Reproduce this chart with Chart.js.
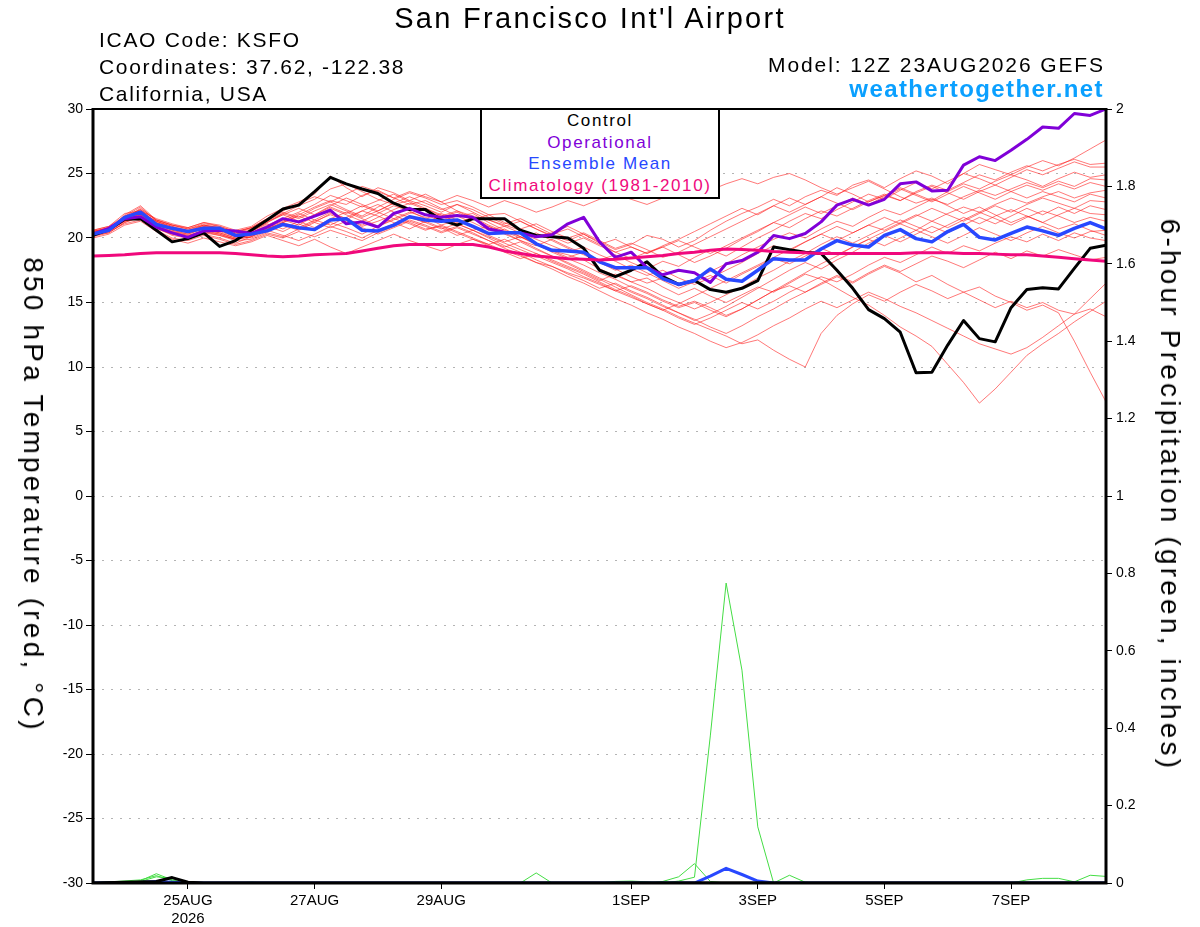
<!DOCTYPE html>
<html lang="en">
<head>
    <meta charset="UTF-8">
    <title>San Francisco Int'l Airport - GEFS 850 hPa Temperature</title>
    <script src="https://cdn.jsdelivr.net/npm/chart.js"></script>
    <style>
        body {
            margin: 0;
            background: #fff;
        }

        #wrap {
            position: relative;
            width: 1200px;
            height: 927px;
            font-family: "Liberation Sans", Arial, sans-serif;
            color: #000;
        }

        #wrap canvas {
            position: absolute;
            left: 0;
            top: 0;
        }

        .txt {
            position: absolute;
            white-space: nowrap;
            line-height: 1;
        }

        .title {
            left: 590px;
            top: 4px;
            font-size: 29px;
            letter-spacing: 2.3px;
            transform: translateX(-50%);
        }

        .info {
            left: 99px;
            font-size: 21px;
            letter-spacing: 1.7px;
        }

        .model {
            right: 95px;
            top: 54px;
            font-size: 21px;
            letter-spacing: 1.9px;
        }

        .site {
            right: 96px;
            top: 77px;
            font-size: 24px;
            font-weight: bold;
            letter-spacing: 1.4px;
            color: #0aa0ff;
        }

        .legend {
            position: absolute;
            left: 480px;
            top: 108px;
            width: 240px;
            height: 91px;
            box-sizing: border-box;
            border: 2px solid #000;
            background: #fff;
            text-align: center;
            font-size: 17px;
            line-height: 21.5px;
            letter-spacing: 1.6px;
        }

        .axis-title {
            position: absolute;
            white-space: nowrap;
            font-size: 28px;
            line-height: 1;
            letter-spacing: 3.2px;
            transform: translate(-50%, -50%) rotate(90deg);
        }
    </style>
</head>
<body>
<div id="wrap">
    <canvas id="chart" width="1200" height="927"></canvas>

    <div class="txt title">San Francisco Int'l Airport</div>
    <div class="txt info" style="top:29px">ICAO Code: KSFO</div>
    <div class="txt info" style="top:56px">Coordinates: 37.62, -122.38</div>
    <div class="txt info" style="top:83px">California, USA</div>
    <div class="txt model">Model: 12Z 23AUG2026 GEFS</div>
    <div class="txt site">weathertogether.net</div>

    <div class="legend">
        <div style="color:#000">Control</div>
        <div style="color:#8000d8">Operational</div>
        <div style="color:#2848ff">Ensemble Mean</div>
        <div style="color:#f0087c">Climatology (1981-2010)</div>
    </div>

    <div class="axis-title" style="left:33px; top:495px">850 hPa Temperature (red, °C)</div>
    <div class="axis-title" style="left:1170px; top:495px">6-hour Precipitation (green, inches)</div>
</div>

<script>
    // 6-hourly steps, step 0 = 12Z 23AUG2026, step 64 = 12Z 8SEP2026
    const tickSteps = [6, 14, 22, 34, 42, 50, 58];
    const tickLabels = [['25AUG', '2026'], '27AUG', '29AUG', '1SEP', '3SEP', '5SEP', '7SEP'];

    // 850 hPa temperature (C)
    const control = [
        20.2, 20.65, 21.45, 21.5, 20.6, 19.7, 19.95, 20.4, 19.35, 19.8,
        20.6, 21.4, 22.25, 22.55, 23.6, 24.7, 24.2, 23.8, 23.45, 22.7,
        22.2, 22.2, 21.4, 21.0, 21.5, 21.5, 21.5, 20.6, 20.2, 20.1,
        20.0, 19.2, 17.5, 17.0, 17.5, 18.15, 17.0, 16.4, 16.7, 16.0,
        15.8, 16.1, 16.7, 19.3, 19.1, 18.9, 18.8, 17.5, 16.1, 14.45,
        13.75, 12.7, 9.55, 9.6, 11.7, 13.6, 12.2, 11.95, 14.6, 16.0,
        16.15, 16.05, 17.65, 19.2, 19.45
    ];
    const operational = [
        20.3, 20.75, 21.5, 21.65, 20.85, 20.4, 20.05, 20.55, 20.6, 20.55,
        20.35, 20.85, 21.5, 21.25, 21.7, 22.15, 21.1, 21.25, 20.85, 21.9,
        22.3, 21.8, 21.6, 21.75, 21.6, 20.7, 20.45, 20.4, 20.1, 20.25,
        21.1, 21.6, 19.7, 18.5, 18.9, 17.7, 17.15, 17.5, 17.3, 16.55,
        18.0, 18.25, 18.9, 20.2, 19.95, 20.35, 21.25, 22.55, 23.0, 22.55,
        23.0, 24.2, 24.35, 23.65, 23.7, 25.65, 26.3, 26.0, 26.8, 27.65,
        28.6, 28.5, 29.65, 29.5, 30.0
    ];
    const ensembleMean = [
        20.3, 20.6, 21.6, 22.0, 21.05, 20.75, 20.5, 20.75, 20.75, 20.2,
        20.3, 20.55, 21.05, 20.8, 20.65, 21.4, 21.5, 20.6, 20.55, 21.0,
        21.65, 21.4, 21.3, 21.4, 20.9, 20.35, 20.4, 20.4, 19.55, 19.05,
        19.0, 18.9, 18.15, 17.7, 17.7, 17.7, 16.85, 16.4, 16.7, 17.6,
        16.8, 16.65, 17.5, 18.4, 18.3, 18.3, 19.15, 19.8, 19.45, 19.3,
        20.2, 20.65, 19.95, 19.7, 20.5, 21.05, 20.05, 19.85, 20.35, 20.85,
        20.55, 20.2, 20.75, 21.2, 20.7
    ];
    const climatology = [
        18.6, 18.65, 18.7, 18.8, 18.85, 18.85, 18.85, 18.85, 18.85, 18.8,
        18.7, 18.6, 18.55, 18.6, 18.7, 18.75, 18.8, 19.0, 19.2, 19.4,
        19.5, 19.5, 19.5, 19.5, 19.5, 19.3, 19.0, 18.8, 18.6, 18.5,
        18.4, 18.35, 18.3, 18.35, 18.45, 18.55, 18.65, 18.8, 18.9, 19.05,
        19.15, 19.1, 19.05, 18.95, 18.9, 18.85, 18.8, 18.8, 18.8, 18.8,
        18.8, 18.8, 18.85, 18.85, 18.85, 18.8, 18.8, 18.75, 18.7, 18.7,
        18.6, 18.5, 18.4, 18.3, 18.2
    ];

    // ensemble members, 850 hPa temperature (C)
    const members = [
        [20.4,20.7,21.7,22.4,21.3, 20.8,20.5,20.9,20.8,20.3, 20.5,21.2,21.9,22.5,23.0, 23.8,24.2,23.6,23.0,22.6,
         22.9,23.4,22.8,22.1,21.7, 21.4,21.0,20.6,20.1,20.4, 20.9,20.3,19.7,19.1,19.5, 20.2,19.9,19.3,19.8,20.6,
         21.3,21.9,22.4,23.0,22.5, 23.2,23.7,23.3,24.1,24.5, 23.9,24.6,25.2,24.8,24.2, 25.0,25.7,25.3,24.9,25.5,
         26.0,25.6,26.2,26.9,27.6],
        [20.2,20.5,21.3,21.9,20.8, 20.2,20.0,20.3,20.0,19.6, 20.1,20.8,21.0,20.6,21.2, 21.9,21.5,20.9,21.3,21.8,
         21.2,20.7,20.9,20.4,19.9, 19.5,19.0,18.6,18.1,17.8, 17.3,16.9,16.4,15.9,16.3, 15.8,15.2,14.7,15.1,14.6,
         14.0,14.5,15.2,15.9,16.3, 15.8,16.4,17.0,16.5,17.2, 17.8,17.3,16.6,17.1,16.4, 15.8,16.2,15.5,15.0,14.4,
         14.8,14.2,12.0,9.6,7.3],
        [20.5,20.8,21.5,22.0,21.3, 20.9,20.4,20.7,20.6,20.2, 20.0,20.5,21.2,21.8,22.4, 22.9,22.6,23.3,23.7,23.1,
         22.6,22.9,22.3,21.7,21.9, 21.2,20.6,20.1,19.6,19.0, 18.7,18.3,17.6,17.1,16.6, 16.9,16.2,15.6,16.1,15.5,
         15.0,15.6,16.2,15.8,16.5, 17.2,16.8,16.1,15.4,14.8, 14.0,13.1,12.4,11.6,10.2, 8.8,7.2,8.3,9.6,10.9,
         11.8,12.6,13.5,14.3,15.1],
        [20.3,20.6,21.8,22.5,21.4, 21.0,20.7,21.1,20.9,20.5, 20.8,21.5,22.0,21.6,22.3, 22.8,22.2,21.7,22.4,23.0,
         23.5,23.1,22.6,22.9,22.4, 21.8,21.9,21.3,20.7,20.2, 19.8,20.3,19.6,18.9,18.4, 18.9,19.3,18.7,18.1,18.6,
         19.2,19.9,20.5,21.2,20.8, 21.5,22.1,21.7,22.3,22.9, 23.4,22.9,23.6,24.1,23.7, 24.3,24.9,24.5,25.1,25.6,
         25.2,25.7,26.1,25.7,25.8],
        [20.1,20.4,21.2,21.6,20.7, 20.3,20.1,20.5,20.2,19.8, 19.9,20.4,20.1,20.7,21.3, 21.8,21.4,22.1,22.6,22.0,
         21.6,21.2,21.7,21.1,20.6, 20.9,20.4,19.8,19.4,19.9, 19.3,18.8,18.3,18.7,18.1, 17.6,18.2,17.8,18.5,19.1,
         18.6,19.3,20.0,20.6,21.3, 21.9,21.5,22.2,22.8,23.4, 23.0,23.7,24.3,23.8,24.4, 25.0,24.6,24.1,24.7,25.3,
         24.9,25.4,25.9,25.5,25.5],
        [20.6,20.9,21.9,22.1,21.5, 21.1,20.8,21.2,21.0,20.6, 20.9,21.7,22.3,22.8,23.4, 24.8,23.9,23.2,23.9,23.5,
         22.9,22.5,22.0,22.6,22.2, 21.6,21.1,21.5,20.9,20.3, 20.7,20.1,19.5,19.9,19.3, 18.8,19.4,19.9,20.5,21.1,
         21.7,22.3,21.8,22.5,23.1, 22.6,23.2,23.9,23.4,22.8, 23.3,23.9,23.4,22.9,23.6, 24.2,23.8,24.4,24.9,24.5,
         24.0,24.6,25.1,24.7,24.9],
        [20.3,20.5,21.4,21.8,20.9, 20.5,20.2,20.6,20.4,20.0, 20.2,20.9,20.5,21.1,20.6, 21.2,20.8,20.3,20.9,21.5,
         22.0,21.6,21.0,21.4,20.9, 20.3,20.7,20.1,19.5,19.0, 18.5,18.9,18.2,17.6,17.0, 16.5,16.9,16.3,16.8,17.4,
         18.0,18.7,19.3,19.9,20.4, 20.0,20.7,21.3,20.9,21.6, 22.2,21.8,22.4,23.0,22.6, 23.2,23.7,23.3,23.8,24.3,
         23.9,24.4,24.0,24.6,24.5],
        [20.4,20.6,21.5,21.9,21.1, 20.6,20.3,20.8,20.5,20.1, 20.4,20.9,21.4,21.0,21.7, 22.3,21.8,21.3,21.9,22.5,
         22.1,21.5,21.9,21.4,20.8, 20.2,19.7,20.1,19.5,18.9, 18.4,17.9,17.3,16.8,16.2, 15.7,15.1,14.6,15.0,14.4,
         13.9,14.5,15.2,15.9,16.6, 17.3,18.0,18.6,19.3,19.9, 20.5,21.1,20.6,21.3,21.9, 22.4,22.0,22.6,23.1,22.7,
         23.2,23.6,23.1,23.5,23.7],
        [20.2,20.5,21.1,21.4,20.6, 20.0,19.8,20.2,19.9,19.5, 19.8,20.3,20.0,20.5,20.1, 20.6,20.2,19.8,20.4,20.9,
         21.4,21.0,20.5,20.9,20.4, 19.8,19.3,19.7,19.1,18.6, 18.1,17.5,16.9,16.4,15.8, 15.3,14.7,14.2,13.6,14.1,
         14.7,15.4,16.1,16.8,17.5, 18.1,17.6,18.3,18.9,19.6, 20.2,19.7,20.3,20.9,20.4, 21.0,21.6,21.1,21.7,22.3,
         21.8,22.4,21.9,22.5,22.2],
        [20.5,20.8,21.6,22.2,21.2, 20.7,20.5,21.0,20.7,20.3, 20.6,21.2,21.8,21.3,20.8, 21.5,22.0,21.5,20.9,21.4,
         21.9,22.3,21.8,21.2,21.6, 21.0,20.5,20.0,20.4,19.8, 19.2,18.7,18.1,17.5,17.9, 17.3,16.7,16.1,16.6,17.1,
         16.5,17.2,17.8,18.4,18.0, 18.6,19.2,18.7,19.3,19.9, 19.4,20.0,20.6,20.1,19.6, 20.2,20.8,20.3,19.8,20.4,
         20.9,20.4,20.0,20.5,20.6],
        [20.0,20.3,21.0,21.3,20.5, 19.9,19.6,20.0,19.7,19.4, 19.7,20.2,19.8,19.4,19.9, 19.3,18.8,19.3,19.8,20.3,
         19.8,19.4,19.0,19.5,19.9, 19.4,18.9,18.4,18.8,18.2, 17.7,17.2,16.6,16.0,15.5, 14.9,14.4,13.8,13.3,13.8,
         14.4,15.0,14.5,15.1,15.8, 16.4,17.0,16.6,17.2,17.9, 18.5,18.1,18.7,19.3,18.8, 19.4,19.0,19.6,20.1,19.7,
         20.3,19.8,20.4,20.0,19.8],
        [20.3,20.7,21.3,21.7,20.9, 20.4,20.1,20.6,20.3,19.9, 20.3,20.8,21.3,21.9,21.4, 21.0,21.6,22.1,21.7,21.2,
         20.7,21.3,20.8,20.2,20.6, 20.0,19.4,18.9,18.3,17.8, 17.2,16.7,16.1,16.5,15.9, 15.4,14.8,14.2,13.7,13.1,
         12.6,13.2,13.9,14.5,15.2, 15.8,16.5,17.1,16.6,17.3, 17.9,17.4,18.0,18.6,18.2, 17.7,18.3,18.9,18.4,19.0,
         18.6,19.1,18.7,18.3,18.5],
        [20.4,20.6,21.4,21.8,21.0, 20.6,20.4,20.8,20.6,20.1, 20.4,21.0,21.5,22.0,22.6, 23.3,22.9,22.4,22.9,23.4,
         22.8,22.3,21.7,22.1,21.5, 20.9,20.3,19.8,19.2,18.6, 18.0,17.4,16.8,16.2,15.6, 15.0,14.5,13.9,13.4,12.9,
         12.4,11.8,12.1,11.3,10.6, 10.0,12.6,14.0,14.9,15.6, 15.1,15.8,16.4,15.9,15.3, 15.8,15.2,14.6,15.1,14.6,
         15.0,14.4,14.1,14.5,13.9],
        [20.6,20.9,21.7,22.2,21.4, 21.0,20.7,21.0,20.8,20.4, 20.7,21.4,21.9,21.5,22.1, 22.6,22.1,21.6,22.1,22.7,
         22.3,21.8,21.3,21.7,21.2, 20.6,20.9,20.4,19.9,19.4, 18.9,19.3,18.7,18.2,17.6, 17.1,17.5,16.9,16.4,16.9,
         17.5,18.1,18.8,19.4,19.0, 19.7,20.3,19.8,20.4,21.0, 20.6,21.2,21.8,21.3,20.8, 21.4,22.0,21.5,21.0,21.6,
         22.1,21.7,21.2,21.6,21.3],
        [20.3,20.6,21.3,21.6,20.8, 20.3,20.1,20.4,20.2,19.9, 20.1,20.6,20.2,19.8,20.3, 20.9,20.5,20.0,20.6,21.1,
         21.6,21.2,20.7,21.1,20.6, 20.1,19.6,19.1,18.6,18.1, 17.6,17.0,16.5,15.9,15.4, 14.9,14.4,14.9,15.5,16.1,
         16.7,17.3,17.9,18.5,19.1, 19.7,20.3,20.9,20.4,21.0, 21.6,21.1,21.7,22.3,21.8, 21.3,21.9,22.5,22.0,22.6,
         23.1,22.7,22.3,22.9,22.8],
        [20.5,20.8,21.6,22.0,21.3, 20.9,20.6,21.0,20.8,20.4, 20.8,21.5,22.1,22.7,23.2, 22.8,23.4,24.0,23.6,23.1,
         23.6,23.2,22.8,23.3,22.9, 22.4,22.9,22.5,22.0,22.4, 22.9,22.5,23.0,23.4,23.0, 22.6,23.1,23.6,23.2,23.7,
         24.2,24.6,24.2,24.7,25.0, 24.5,23.9,23.4,23.9,24.4, 23.8,23.2,22.7,23.1,22.5, 21.9,22.4,21.8,21.2,21.7,
         21.2,20.7,21.1,20.6,20.2],
        [20.2,20.4,21.2,21.7,20.9, 20.4,20.2,20.5,20.3,19.9, 20.1,20.7,21.2,20.8,21.4, 22.0,21.5,21.0,21.6,22.2,
         22.7,22.2,21.6,22.0,21.4, 21.8,21.2,20.7,21.1,20.5, 20.0,20.4,19.8,19.2,19.6, 19.1,18.5,18.9,19.5,20.1,
         20.7,21.3,21.9,22.5,22.0, 22.6,23.2,22.7,22.2,22.8, 23.3,22.9,23.5,24.0,23.5, 23.0,23.6,24.1,23.6,23.1,
         23.6,23.2,22.8,23.4,23.1],
        [20.4,20.7,21.5,22.1,21.2, 20.8,20.5,20.9,20.6,20.2, 20.5,21.1,20.7,21.3,21.8, 22.4,21.9,22.5,22.0,21.5,
         21.1,20.6,21.0,20.5,20.0, 19.5,19.9,19.3,18.8,18.3, 17.8,17.3,16.7,17.2,16.6, 16.1,15.5,15.0,14.5,15.0,
         15.6,16.2,16.9,17.5,18.2, 18.8,19.5,20.1,19.6,20.2, 20.8,21.4,20.9,20.4,21.0, 21.6,21.1,21.7,22.2,21.7,
         21.2,21.8,22.3,21.9,21.8],
        [20.3,20.5,21.4,21.9,21.0, 20.5,20.3,20.7,20.4,20.0, 20.2,20.7,21.2,21.7,21.2, 20.8,21.3,20.8,20.3,20.8,
         21.3,20.9,20.4,20.8,20.3, 19.8,19.2,18.7,18.1,17.6, 17.0,16.5,15.9,15.3,14.8, 14.2,13.7,13.1,12.6,12.0,
         11.5,11.9,12.5,13.2,13.8, 14.5,15.1,14.6,15.2,15.8, 15.3,14.7,14.2,13.6,13.0, 12.4,11.8,11.4,11.0,11.5,
         12.3,13.2,14.1,15.3,16.5],
        [20.5,20.7,21.5,22.3,21.4, 21.0,20.8,21.2,20.9,20.5, 20.8,21.3,21.8,22.3,21.8, 22.5,23.1,22.6,22.1,22.7,
         23.2,22.7,22.2,22.6,22.0, 21.4,20.9,21.3,20.7,20.1, 19.6,20.0,19.4,18.9,19.3, 18.8,19.3,19.8,19.3,18.8,
         19.4,20.0,20.6,21.2,21.8, 22.4,21.9,22.5,23.1,22.6, 23.2,23.8,23.3,22.8,23.4, 24.0,23.5,23.0,23.6,24.1,
         23.7,24.2,23.8,24.3,24.0]
    ];

    // 6-hour precipitation (inches) as [step, value]; steps not listed are 0
    const precipMembers = [
        [[0, 0], [36, 0], [37, 0.005], [38, 0.015], [39, 0.38], [40, 0.775], [41, 0.55], [42, 0.145], [43, 0], [64, 0]],
        [[0, 0], [35, 0], [36, 0.004], [37, 0.016], [38, 0.05], [39, 0.004], [40, 0], [43, 0], [44, 0.02], [45, 0.002], [46, 0], [64, 0]],
        [[0, 0], [27, 0], [28, 0.026], [29, 0], [64, 0]],
        [[0, 0], [1, 0.003], [2, 0], [3, 0.006], [4, 0.024], [5, 0.008], [6, 0], [58, 0], [59, 0.008], [60, 0.012], [61, 0.012], [62, 0.003], [63, 0.02], [64, 0.017]],
        [[0, 0], [3, 0.004], [4, 0.016], [5, 0.012], [6, 0], [32, 0], [33, 0.004], [34, 0.005], [35, 0.003], [36, 0], [64, 0]],
        [[0, 0], [3, 0.008], [4, 0.019], [5, 0.006], [6, 0], [64, 0]],
        [[0, 0], [1, 0.002], [2, 0], [9, 0], [10, 0.002], [11, 0], [64, 0]]
    ];
    const precipMean = [[0, 0], [3, 0.001], [4, 0.004], [5, 0.002], [6, 0], [38, 0], [39, 0.018], [40, 0.038], [41, 0.022], [42, 0.005], [43, 0], [64, 0]];
    const precipControl = [[0, 0], [4, 0.004], [5, 0.014], [6, 0.002], [7, 0], [64, 0]];

    const fontFamily = '"Liberation Sans", Arial, sans-serif';

    function series(values) {
        return values.map((v, i) => ({ x: i, y: v }));
    }

    function pairs(list) {
        return list.map(p => ({ x: p[0], y: p[1] }));
    }

    const datasets = [
        { data: series(climatology), borderColor: '#f0087c', borderWidth: 3, order: 0 },
        { data: series(ensembleMean), borderColor: '#2848ff', borderWidth: 3.5, order: 1 },
        { data: series(operational), borderColor: '#8000d8', borderWidth: 3, order: 2 },
        { data: series(control), borderColor: '#000000', borderWidth: 3, order: 3 },
        { data: pairs(precipControl), yAxisID: 'y1', borderColor: '#000000', borderWidth: 3, order: 4 },
        { data: pairs(precipMean), yAxisID: 'y1', borderColor: '#2848ff', borderWidth: 3, order: 4 }
    ];
    precipMembers.forEach(p => {
        datasets.push({ data: pairs(p), yAxisID: 'y1', borderColor: '#44dd44', borderWidth: 1, order: 5 });
    });
    members.forEach(m => {
        datasets.push({ data: series(m), borderColor: 'rgba(255, 30, 30, 0.6)', borderWidth: 1, order: 6 });
    });

    // thick black frame round the plot
    const frame = {
        id: 'frame',
        afterDatasetsDraw(chart) {
            const { ctx, chartArea: a } = chart;
            ctx.save();
            ctx.strokeStyle = '#000';
            ctx.lineWidth = 2;
            ctx.beginPath();
            ctx.moveTo(a.left, a.top);
            ctx.lineTo(a.right, a.top);
            ctx.stroke();
            ctx.lineWidth = 3;
            ctx.beginPath();
            ctx.moveTo(a.left, a.top - 1);
            ctx.lineTo(a.left, a.bottom);
            ctx.lineTo(a.right, a.bottom);
            ctx.lineTo(a.right, a.top - 1);
            ctx.stroke();
            ctx.restore();
        }
    };

    new Chart(document.getElementById('chart'), {
        type: 'line',
        data: { datasets: datasets },
        options: {
            responsive: false,
            animation: false,
            layout: { padding: { top: 109, left: 0, right: 0, bottom: 0 } },
            elements: {
                point: { radius: 0 },
                line: { tension: 0, fill: false, borderJoinStyle: 'round' }
            },
            plugins: {
                legend: { display: false },
                tooltip: { enabled: false }
            },
            scales: {
                x: {
                    type: 'linear',
                    position: 'bottom',
                    min: 0,
                    max: 64,
                    afterFit: s => { s.height = 44; },
                    afterBuildTicks: s => { s.ticks = tickSteps.map(v => ({ value: v })); },
                    ticks: {
                        autoSkip: false,
                        maxRotation: 0,
                        padding: 3,
                        color: '#000',
                        font: { family: fontFamily, size: 15 },
                        callback: (v, i) => tickLabels[i]
                    },
                    grid: { drawOnChartArea: false, tickLength: 6, tickColor: '#000', tickWidth: 1 },
                    border: { display: false }
                },
                y: {
                    position: 'left',
                    min: -30,
                    max: 30,
                    afterFit: s => { s.width = 93; },
                    ticks: {
                        stepSize: 5,
                        padding: 3,
                        color: '#000',
                        font: { family: fontFamily, size: 14 }
                    },
                    grid: {
                        color: '#b4b4b4',
                        lineWidth: 1,
                        tickLength: 7,
                        tickColor: '#000',
                        tickWidth: 1,
                        tickBorderDash: []
                    },
                    border: { display: false, dash: [2, 7] }
                },
                y1: {
                    position: 'right',
                    min: 0,
                    max: 2,
                    afterFit: s => { s.width = 94; },
                    ticks: {
                        stepSize: 0.2,
                        padding: 4,
                        color: '#000',
                        font: { family: fontFamily, size: 14 },
                        callback: v => String(Math.round(v * 10) / 10)
                    },
                    grid: { drawOnChartArea: false, tickLength: 6, tickColor: '#000', tickWidth: 1 },
                    border: { display: false }
                }
            }
        },
        plugins: [frame]
    });
</script>
</body>
</html>
